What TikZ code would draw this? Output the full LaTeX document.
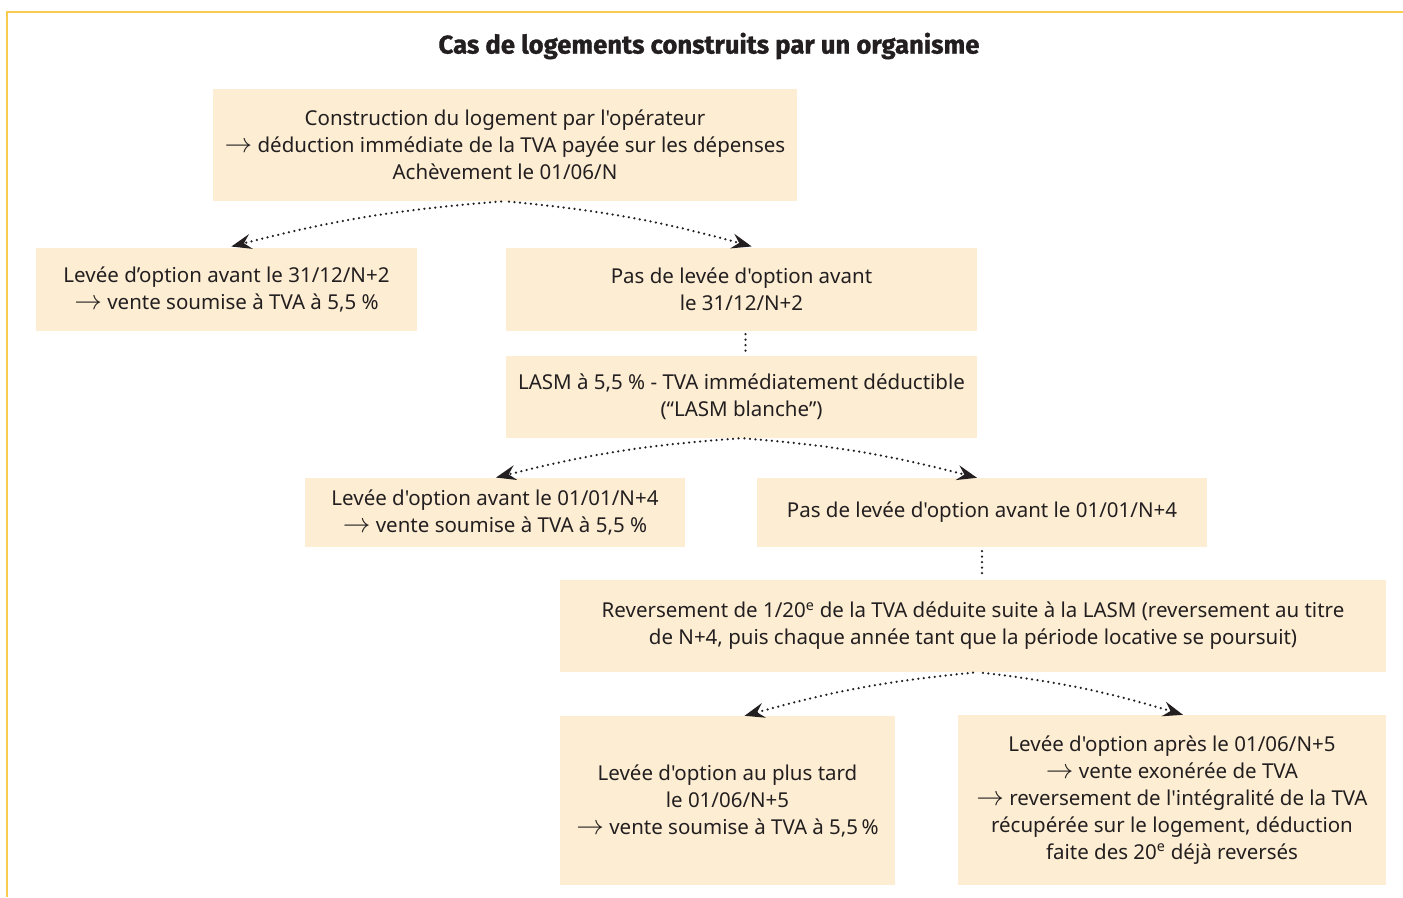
\documentclass[tikz,border=0pt]{standalone}
\usepackage{fontspec}
\setmainfont{Noto Sans}[Ligatures=TeXOff]
\newfontfamily\titlefont{Fira Sans}[FakeBold=1.2]
\usetikzlibrary{positioning, arrows.meta, calc}
\definecolor{boxcream}{HTML}{FDEED3}
\definecolor{frameyellow}{HTML}{F9CC4E}
\definecolor{inkgray}{HTML}{231F20}
\newcommand{\thento}{\smash{\scalebox{1.33}{$\rightarrow$}}}

\begin{document}
\begin{tikzpicture}[
    x=1pt, y=-1pt,
    >={Stealth[length=20pt, width=15pt, inset=7pt]},
    font=\fontsize{20.5}{27}\selectfont,
    case box/.style={fill=boxcream, text=inkgray, align=center, inner sep=0pt},
    dots/.style={inkgray, line width=2.5pt, line cap=round, dash pattern=on 0pt off 5.5pt},
    branch/.style={dots, ->},
]

\useasboundingbox (0,0) rectangle (1403,897);

% Frame
\draw[frameyellow, line width=2.5pt] (7,897) -- (7,12) -- (1403,12);

% Title
\node[font=\titlefont\bfseries\fontsize{25.7}{30}\selectfont, text=inkgray] (title) at (709,46)
    {Cas de logements construits par un organisme};

% Level 1
\node[case box, minimum width=584pt, minimum height=112pt] (build) at (505,145)
    {Construction du logement par l'opérateur\\
     \thento{} déduction immédiate de la TVA payée sur les dépenses\\
     Achèvement le 01/06/N};

% Level 2
\node[case box, minimum width=381pt, minimum height=83pt] (early lift) at (226.5,289.5)
    {Levée d’option avant le 31/12/N+2\\
     \thento{} vente soumise à TVA à 5,5 \%};
\node[case box, minimum width=471pt, minimum height=83pt] (no early lift) at (741.5,289.5)
    {Pas de levée d'option avant\\ le 31/12/N+2};

% LASM
\node[case box, minimum width=471pt, minimum height=82pt] (lasm) at (741.5,397)
    {LASM à 5,5 \% - TVA immédiatement déductible\\
     (“LASM blanche”)};

% Level 3
\node[case box, minimum width=380pt, minimum height=69pt] (mid lift) at (495,512.5)
    {Levée d'option avant le 01/01/N+4\\
     \thento{} vente soumise à TVA à 5,5 \%};
\node[case box, minimum width=450pt, minimum height=69pt] (no mid lift) at (982,512.5)
    {Pas de levée d'option avant le 01/01/N+4};

% Repayment
\node[case box, minimum width=826pt, minimum height=92pt] (repay) at (973,626)
    {Reversement de 1/20\textsuperscript{e} de la TVA déduite suite à la LASM (reversement au titre\\
     de N+4, puis chaque année tant que la période locative se poursuit)};

% Level 4
\node[case box, minimum width=335pt, minimum height=169pt] (late lift) at (727.5,800.5)
    {Levée d'option au plus tard\\ le 01/06/N+5\\
     \thento{} vente soumise à TVA à 5,5\,\%};
\node[case box, minimum width=428pt, minimum height=170pt] (after lift) at (1172,800)
    {Levée d'option après le 01/06/N+5\\
     \thento{} vente exonérée de TVA\\
     \thento{} reversement de l'intégralité de la TVA\\
     récupérée sur le logement, déduction\\
     faite des 20\textsuperscript{e} déjà reversés};

% Branches
\draw[branch, shorten <=4pt, shorten >=5pt] (build.south) to[bend right=5] (early lift.north);
\draw[branch, shorten <=4pt, shorten >=5pt] (build.south) to[bend left=5] ([xshift=15pt]no early lift.north);

\draw[dots, shorten <=3pt, shorten >=3pt] ([xshift=4pt]no early lift.south) -- ([xshift=4pt]lasm.north);

\draw[branch, shorten <=3pt, shorten >=1pt] (lasm.south) to[bend right=5] (mid lift.north);
\draw[branch, shorten <=3pt, shorten >=0pt] (lasm.south) to[bend left=5] ([xshift=-5pt]no mid lift.north);

\draw[dots, shorten <=4pt, shorten >=5pt] (no mid lift.south) -- (no mid lift.south |- repay.north);

\draw[branch, shorten <=5pt, shorten >=0pt] ([xshift=5pt]repay.south) to[bend right=5] ([xshift=17pt]late lift.north);
\draw[branch, shorten <=5pt, shorten >=0pt] ([xshift=5pt]repay.south) to[bend left=5] ([xshift=11pt]after lift.north);

\end{tikzpicture}
\end{document}
